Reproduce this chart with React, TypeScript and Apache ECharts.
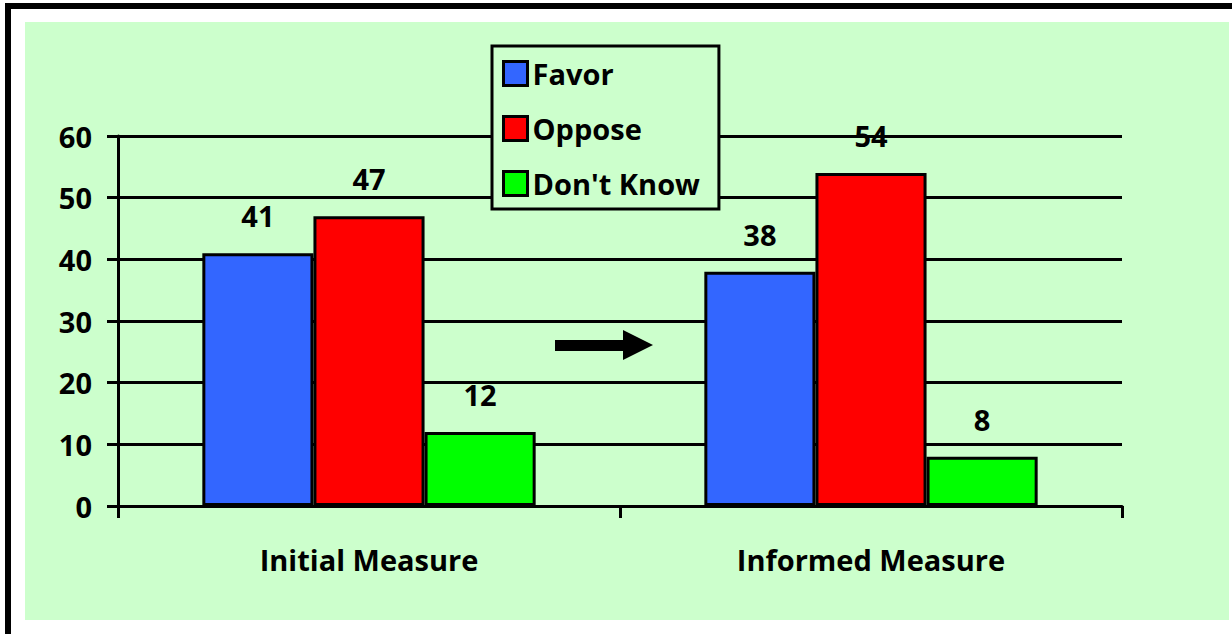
import React, { useEffect, useRef } from "react";
import * as echarts from "echarts";

const categories = ["Initial Measure", "Informed Measure"];
const seriesNames = ["Favor", "Oppose", "Don't Know"];
const favor = [41, 38];
const oppose = [47, 54];
const dontKnow = [12, 8];
const seriesColors = ["#3366FF", "#FF0000", "#00FF00"];
const yTicks = { min: 0, max: 60, interval: 10 };

const FONT = "Open Sans";
const FS = 29;

export default function App() {
  const ref = useRef<HTMLDivElement>(null);

  useEffect(() => {
    if (!ref.current) return;
    const chart = echarts.init(ref.current, null, { renderer: "svg" });
    const values = [favor, oppose, dontKnow];
    const option: any = {
      animation: false,
      backgroundColor: "transparent",
      textStyle: { fontFamily: FONT },
      grid: { left: 118, right: 110, top: 136, bottom: 128, containLabel: false },
      legend: {
        orient: "vertical",
        left: 492,
        top: 46,
        padding: [13, 19, 11, 10],
        itemGap: 26,
        itemWidth: 24,
        itemHeight: 24,
        itemTextGap: 9,
        icon: "rect",
        backgroundColor: "#CCFFCC",
        borderColor: "#000",
        borderWidth: 3,
        itemStyle: { borderColor: "#000", borderWidth: 3 },
        textStyle: { fontFamily: FONT, fontSize: FS, fontWeight: "bold", color: "#000", lineHeight: 28 },
        data: seriesNames,
      },
      xAxis: {
        type: "category",
        data: categories,
        axisLine: { show: true, lineStyle: { color: "#000", width: 3 } },
        axisTick: { show: true, length: 12, lineStyle: { color: "#000", width: 3 }, alignWithLabel: false },
        axisLabel: { margin: 39, fontFamily: FONT, fontSize: FS, fontWeight: "bold", color: "#000" },
        splitLine: { show: false },
      },
      yAxis: {
        type: "value",
        min: yTicks.min,
        max: yTicks.max,
        interval: yTicks.interval,
        axisLine: { show: true, lineStyle: { color: "#000", width: 3 } },
        axisTick: { show: true, length: 11, lineStyle: { color: "#000", width: 3 } },
        axisLabel: { margin: 26, fontFamily: FONT, fontSize: FS, fontWeight: "bold", color: "#000" },
        splitLine: { show: true, lineStyle: { color: "#000", width: 3 } },
      },
      graphic: [
        {
          type: "polygon",
          z: 100,
          shape: {
            points: [
              [555, 340], [623, 340], [623, 330], [653, 345], [623, 360], [623, 351], [555, 351],
            ],
          },
          style: { fill: "#000" },
        },
      ],
      series: seriesNames.map((name, i) => ({
        name,
        type: "bar",
        data: values[i],
        barGap: "0%",
        barCategoryGap: "33.6%",
        itemStyle: { color: seriesColors[i], borderColor: "#000", borderWidth: 3 },
        label: {
          show: true,
          position: "top",
          distance: 23,
          fontFamily: FONT,
          fontSize: FS,
          fontWeight: "bold",
          color: "#000",
        },
      })),
    };
    chart.setOption(option);
    return () => chart.dispose();
  }, []);

  return (
    <div style={{ position: "fixed", left: 0, top: 0, width: 1232, height: 634, background: "#fff", overflow: "hidden" }}>
      <div style={{ position: "absolute", left: 5, top: 3, width: 1300, height: 700, border: "6px solid #000", boxSizing: "border-box", background: "#fff" }} />
      <div style={{ position: "absolute", left: 25, top: 22, width: 1204, height: 598, background: "#CCFFCC" }} />
      <div ref={ref} style={{ position: "absolute", left: 0, top: 0, width: 1232, height: 634 }} />
    </div>
  );
}
